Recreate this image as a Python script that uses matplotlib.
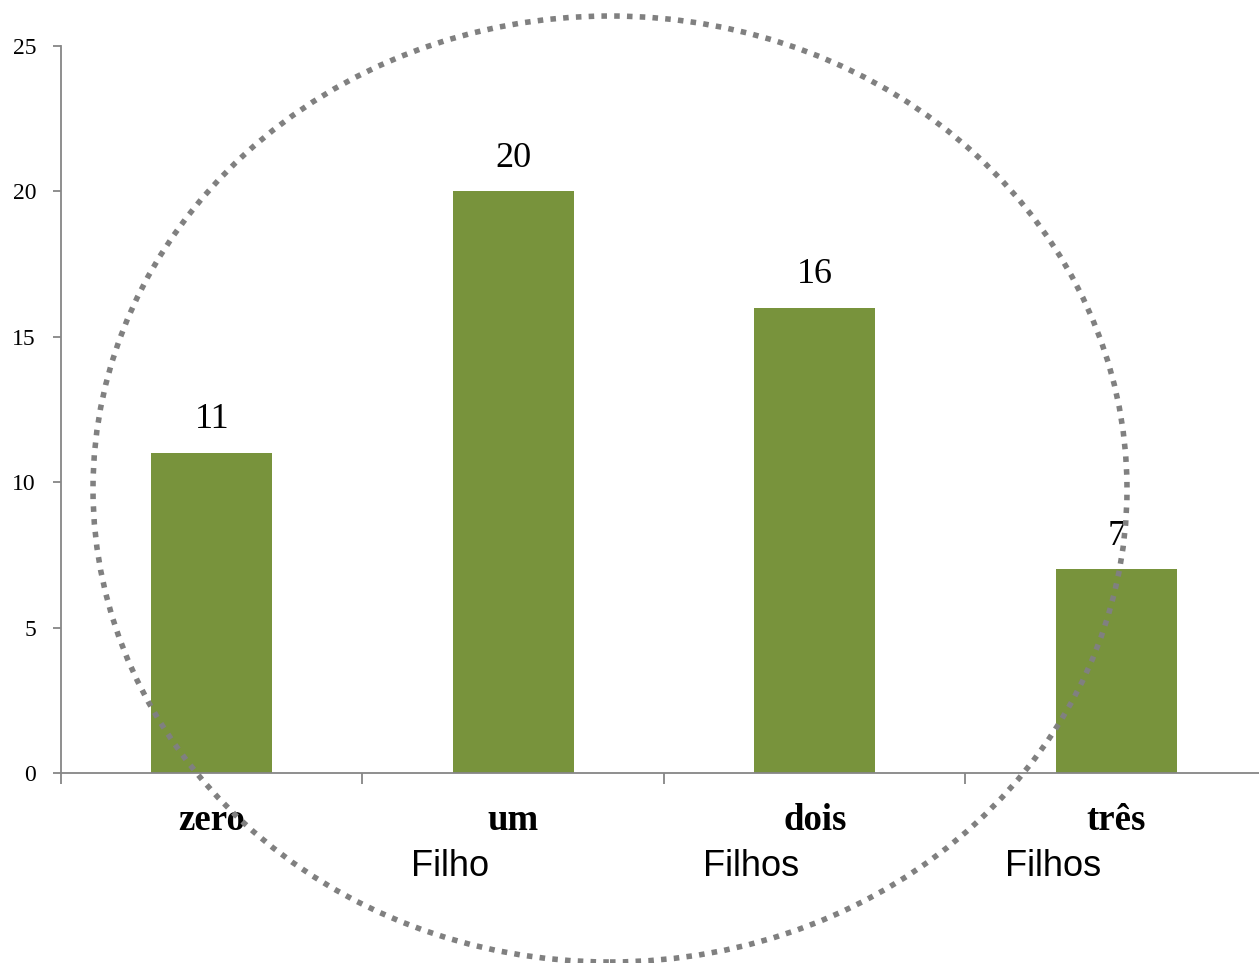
import matplotlib
matplotlib.use("Agg")
import matplotlib.pyplot as plt
from matplotlib.patches import Ellipse

# Numero de filhos por entrevistado
categorias = ["zero", "um", "dois", "três"]
sufixos = ["", "Filho", "Filhos", "Filhos"]
valores = [11, 20, 16, 7]

verde = "#78933c"
cinza = "#868686"

fig = plt.figure(figsize=(12.59, 9.63), dpi=100)
ax = fig.add_axes([61/1259, 1 - 773/963, 1206/1259, 727/963])

x = list(range(len(categorias)))
barras = ax.bar(x, valores, width=0.4, color=verde, zorder=2)

ax.set_xlim(-0.5, 3.5)
ax.set_ylim(0, 25)
ax.set_yticks([0, 5, 10, 15, 20, 25])
ax.set_yticklabels([str(v) for v in [0, 5, 10, 15, 20, 25]],
                   family="Liberation Serif", fontsize=17)
ax.set_xticks([-0.5, 0.5, 1.5, 2.5])
ax.set_xticklabels([])

for s in ["top", "right"]:
    ax.spines[s].set_visible(False)
for s in ["left", "bottom"]:
    ax.spines[s].set_color(cinza)
    ax.spines[s].set_linewidth(1.3)
ax.tick_params(axis="y", length=6, width=1.3, color=cinza, pad=12)
ax.tick_params(axis="x", length=8, width=1.3, color=cinza)

# rotulos de valor
for xi, v in zip(x, valores):
    ax.annotate(str(v), (xi, v), xytext=(0, 12), textcoords="offset points",
                ha="center", va="bottom", family="Liberation Serif", fontsize=26)

# rotulos das categorias em duas linhas
for xi, cat, suf in zip(x, categorias, sufixos):
    ax.annotate(cat, (xi, 0), xytext=(0, -41), textcoords="offset points",
                ha="center", va="baseline", family="Liberation Serif",
                fontweight="bold", fontsize=26.5)
    if suf:
        ax.annotate(suf, (xi - 0.21, 0), xytext=(0, -74), textcoords="offset points",
                    ha="center", va="baseline", family="Liberation Sans",
                    fontsize=26, annotation_clip=False)

# destaque em elipse pontilhada
el = Ellipse((610/1259, 1 - 489/963), 1034/1259, 946/963,
             transform=fig.transFigure, fill=False, edgecolor="#808080",
             linewidth=4.0, linestyle=(0, (1, 1.3)), zorder=10)
el.set_capstyle("butt")
fig.add_artist(el)

fig.savefig("out.png", dpi=100)
